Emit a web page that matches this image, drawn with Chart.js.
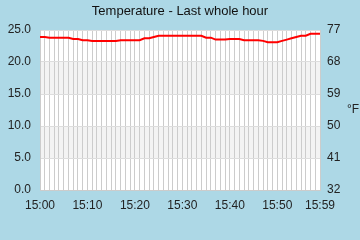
<!DOCTYPE html>
<html>
<head>
<meta charset="utf-8">
<script src="https://cdn.jsdelivr.net/npm/chart.js@4"></script>
<style>
  html, body { margin: 0; padding: 0; background: #add8e6; }
  canvas { display: block; }
</style>
</head>
<body>
<canvas id="chart" width="360" height="240"></canvas>
<script>
// one reading per minute, 15:00 .. 15:59
const minutes = [
    '15:00', '15:01', '15:02', '15:03', '15:04', '15:05', '15:06', '15:07', '15:08', '15:09',
    '15:10', '15:11', '15:12', '15:13', '15:14', '15:15', '15:16', '15:17', '15:18', '15:19',
    '15:20', '15:21', '15:22', '15:23', '15:24', '15:25', '15:26', '15:27', '15:28', '15:29',
    '15:30', '15:31', '15:32', '15:33', '15:34', '15:35', '15:36', '15:37', '15:38', '15:39',
    '15:40', '15:41', '15:42', '15:43', '15:44', '15:45', '15:46', '15:47', '15:48', '15:49',
    '15:50', '15:51', '15:52', '15:53', '15:54', '15:55', '15:56', '15:57', '15:58', '15:59'
];
const temperature = [
    23.9, 23.9, 23.8, 23.8, 23.8, 23.8, 23.8, 23.6, 23.6, 23.4,
    23.4, 23.3, 23.3, 23.3, 23.3, 23.3, 23.3, 23.4, 23.4, 23.4,
    23.4, 23.4, 23.7, 23.7, 23.9, 24.1, 24.1, 24.1, 24.1, 24.1,
    24.1, 24.1, 24.1, 24.1, 24.1, 23.8, 23.8, 23.5, 23.5, 23.5,
    23.6, 23.6, 23.6, 23.4, 23.4, 23.4, 23.4, 23.3, 23.1, 23.1,
    23.1, 23.3, 23.5, 23.7, 23.9, 24.1, 24.1, 24.4, 24.4, 24.4
];
const xTickLabels = ['15:00', '15:10', '15:20', '15:30', '15:40', '15:50', '15:59'];
const fahrenheitTicks = ['32', '41', '50', '59', '68', '77'];
const shadedBands = [[5, 10], [15, 20]];

const titleText = 'Temperature - Last whole hour';
const fontFamily = 'Arial, "Liberation Sans", sans-serif';

const backdrop = {
    id: 'backdrop',
    beforeDraw(chart) {
        const { ctx, chartArea, scales } = chart;
        ctx.save();
        ctx.fillStyle = '#add8e6';
        ctx.fillRect(0, 0, chart.width, chart.height);
        ctx.fillStyle = '#ffffff';
        ctx.fillRect(chartArea.left, chartArea.top, chartArea.right - chartArea.left, chartArea.bottom - chartArea.top);
        ctx.fillStyle = '#f3f3f3';
        shadedBands.forEach(b => {
            const y1 = scales.y.getPixelForValue(b[1]);
            const y0 = scales.y.getPixelForValue(b[0]);
            ctx.fillRect(chartArea.left, y1, chartArea.right - chartArea.left, y0 - y1);
        });
        ctx.restore();
    },
    afterDraw(chart) {
        const { ctx, chartArea } = chart;
        ctx.save();
        ctx.textAlign = 'center';
        ctx.textBaseline = 'middle';
        // title
        ctx.font = '13px ' + fontFamily;
        ctx.fillStyle = '#111';
        ctx.fillText(titleText, chart.width / 2, 11);
        // unit label of the right axis
        ctx.font = '12px ' + fontFamily;
        ctx.fillStyle = '#222';
        ctx.fillText('°F', 353, (chartArea.top + chartArea.bottom) / 2);
        ctx.restore();
    }
};

new Chart(document.getElementById('chart'), {
    type: 'line',
    data: {
        labels: minutes,
        datasets: [{
            label: 'Temperature (°C)',
            data: temperature,
            borderColor: '#ff0000',
            borderWidth: 2,
            pointRadius: 0,
            tension: 0,
            yAxisID: 'y'
        }]
    },
    options: {
        responsive: false,
        animation: false,
        devicePixelRatio: 1,
        layout: { padding: { top: 30, left: 0, right: 0, bottom: 0 } },
        plugins: {
            legend: { display: false },
            tooltip: { enabled: false },
            title: { display: false }
        },
        scales: {
            x: {
                type: 'category',
                offset: false,
                afterFit: s => { s.height = 50; },
                grid: { color: '#cccccc', drawTicks: false },
                border: { color: '#cccccc' },
                ticks: {
                    autoSkip: false,
                    maxRotation: 0,
                    padding: 8,
                    color: '#222',
                    font: { family: fontFamily, size: 12 },
                    callback: function (val, idx) {
                        const lbl = minutes[idx];
                        return xTickLabels.includes(lbl) ? lbl : '';
                    }
                }
            },
            y: {
                position: 'left',
                min: 0,
                max: 25,
                afterFit: s => { s.width = 40; },
                grid: { color: '#dddddd', drawTicks: false },
                border: { color: '#cccccc' },
                ticks: {
                    stepSize: 5,
                    padding: 9,
                    color: '#222',
                    font: { family: fontFamily, size: 12 },
                    callback: v => v.toFixed(1)
                }
            },
            y2: {
                position: 'right',
                min: 0,
                max: 25,
                afterFit: s => { s.width = 40; },
                grid: { drawOnChartArea: false, drawTicks: false },
                border: { color: '#cccccc' },
                ticks: {
                    stepSize: 5,
                    padding: 7,
                    color: '#222',
                    font: { family: fontFamily, size: 12 },
                    callback: (v, idx) => fahrenheitTicks[idx]
                }
            }
        }
    },
    plugins: [backdrop]
});
</script>
</body>
</html>
